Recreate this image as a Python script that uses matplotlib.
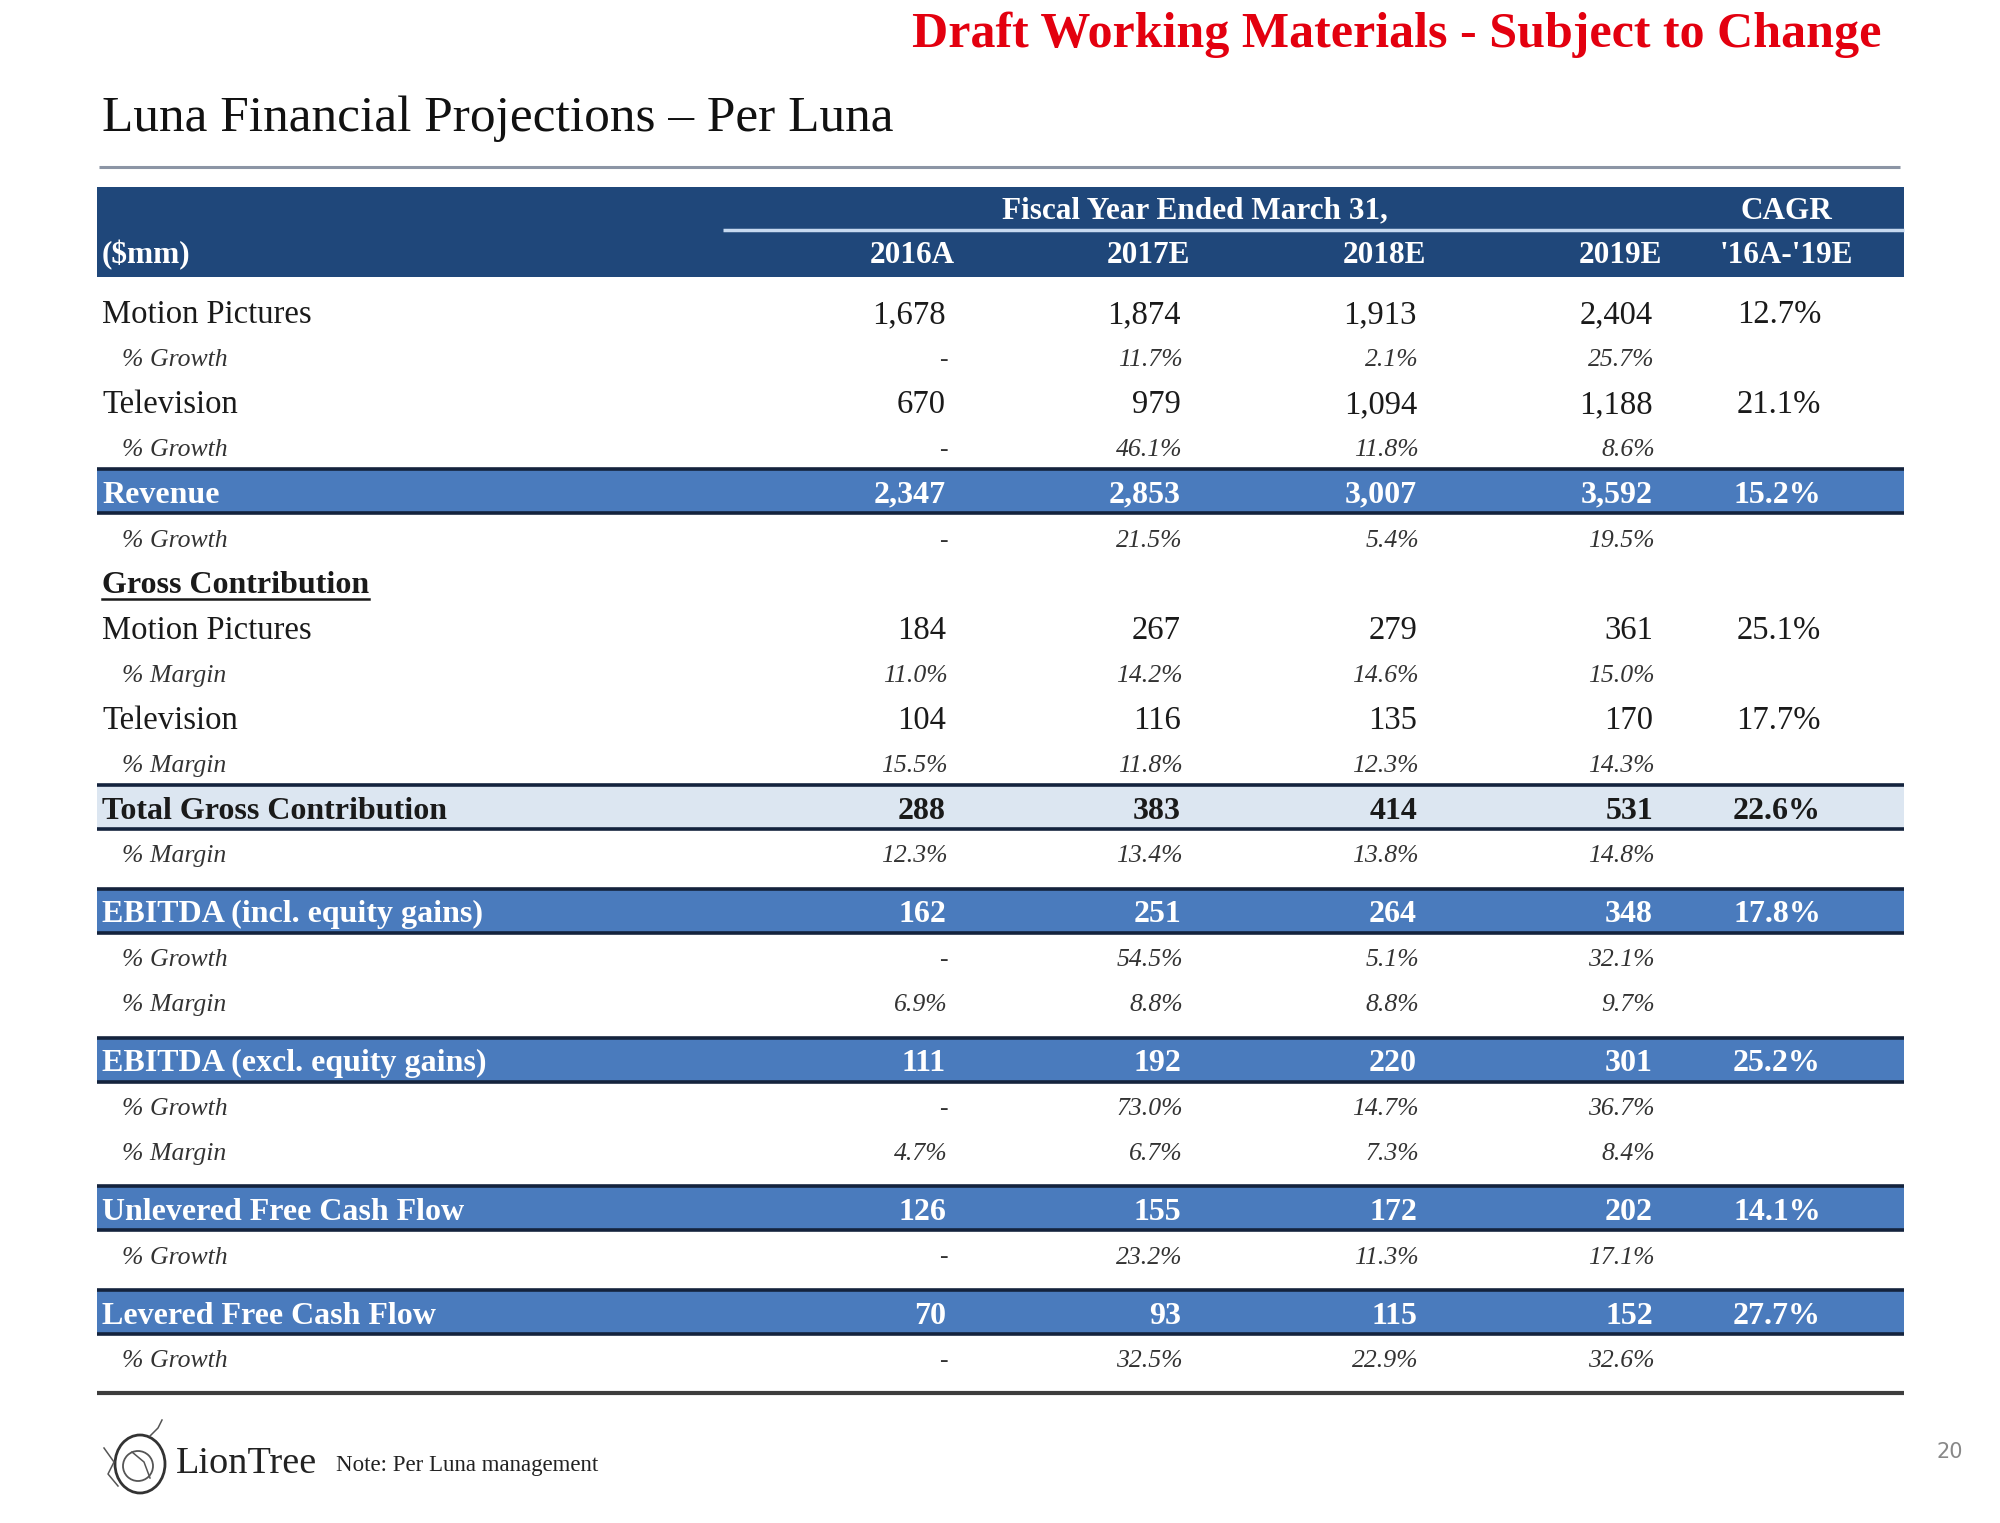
import matplotlib

matplotlib.use("Agg")
import matplotlib.pyplot as plt
from matplotlib.patches import Rectangle, Circle, Ellipse

plt.rcParams["font.family"] = ["Liberation Serif", "DejaVu Serif"]

# ---- data ($mm) ----
years = ["2016A", "2017E", "2018E", "2019E"]
cagr_label = "'16A-'19E"

mp_revenue = [1678, 1874, 1913, 2404]
mp_revenue_growth = [None, 11.7, 2.1, 25.7]
tv_revenue = [670, 979, 1094, 1188]
tv_revenue_growth = [None, 46.1, 11.8, 8.6]
revenue = [2347, 2853, 3007, 3592]
revenue_growth = [None, 21.5, 5.4, 19.5]

mp_gross = [184, 267, 279, 361]
mp_gross_margin = [11.0, 14.2, 14.6, 15.0]
tv_gross = [104, 116, 135, 170]
tv_gross_margin = [15.5, 11.8, 12.3, 14.3]
total_gross = [288, 383, 414, 531]
total_gross_margin = [12.3, 13.4, 13.8, 14.8]

ebitda_incl = [162, 251, 264, 348]
ebitda_incl_growth = [None, 54.5, 5.1, 32.1]
ebitda_incl_margin = [6.9, 8.8, 8.8, 9.7]
ebitda_excl = [111, 192, 220, 301]
ebitda_excl_growth = [None, 73.0, 14.7, 36.7]
ebitda_excl_margin = [4.7, 6.7, 7.3, 8.4]

ufcf = [126, 155, 172, 202]
ufcf_growth = [None, 23.2, 11.3, 17.1]
lfcf = [70, 93, 115, 152]
lfcf_growth = [None, 32.5, 22.9, 32.6]

cagr = {
    "mp_revenue": 12.7, "tv_revenue": 21.1, "revenue": 15.2,
    "mp_gross": 25.1, "tv_gross": 17.7, "total_gross": 22.6,
    "ebitda_incl": 17.8, "ebitda_excl": 25.2, "ufcf": 14.1, "lfcf": 27.7,
}

# (label, values, cagr, style, extra gap before row)
rows = [
    ("Motion Pictures", mp_revenue, cagr["mp_revenue"], "line", 0),
    ("% Growth", mp_revenue_growth, None, "pct", 0),
    ("Television", tv_revenue, cagr["tv_revenue"], "line", 0),
    ("% Growth", tv_revenue_growth, None, "pct", 0),
    ("Revenue", revenue, cagr["revenue"], "band", 0),
    ("% Growth", revenue_growth, None, "pct", 0),
    ("Gross Contribution", None, None, "section", 0),
    ("Motion Pictures", mp_gross, cagr["mp_gross"], "line", 0),
    ("% Margin", mp_gross_margin, None, "pct", 0),
    ("Television", tv_gross, cagr["tv_gross"], "line", 0),
    ("% Margin", tv_gross_margin, None, "pct", 0),
    ("Total Gross Contribution", total_gross, cagr["total_gross"], "light", 0),
    ("% Margin", total_gross_margin, None, "pct", 0),
    ("EBITDA (incl. equity gains)", ebitda_incl, cagr["ebitda_incl"], "band", 1),
    ("% Growth", ebitda_incl_growth, None, "pct", 0),
    ("% Margin", ebitda_incl_margin, None, "pct", 0),
    ("EBITDA (excl. equity gains)", ebitda_excl, cagr["ebitda_excl"], "band", 1),
    ("% Growth", ebitda_excl_growth, None, "pct", 0),
    ("% Margin", ebitda_excl_margin, None, "pct", 0),
    ("Unlevered Free Cash Flow", ufcf, cagr["ufcf"], "band", 1),
    ("% Growth", ufcf_growth, None, "pct", 0),
    ("Levered Free Cash Flow", lfcf, cagr["lfcf"], "band", 1),
    ("% Growth", lfcf_growth, None, "pct", 0),
]

# ---- layout (pixel space, y down) ----
W, H = 2000, 1523
TABLE_L, TABLE_R = 97, 1904
LABEL_X, SUB_X = 102, 122
COL_RIGHT = [946, 1181, 1417, 1653]
CAGR_RIGHT = 1821
HEAD_CENTERS = [912, 1148, 1384, 1620]
CAGR_CENTER = 1786
ROW0, PITCH, GAP = 311, 45.1, 13.5
BAND_HALF = 22
DY = 4  # text baseline nudge

FS_MAIN = 23.5
FS_BAND = 23
FS_PCT = 18.5
FS_HEAD = 22.5

HEADER_BLUE = "#1f477a"
BAND_BLUE = "#4a7bbd"
LIGHT_BAND = "#dce6f1"
BORDER = "#14233d"
TEXT = "#1a1a1a"
PCT_TEXT = "#333333"

fig = plt.figure(figsize=(W / 100, H / 100), dpi=100)
ax = fig.add_axes([0, 0, 1, 1])
ax.set_xlim(0, W)
ax.set_ylim(H, 0)
ax.axis("off")

# title area
ax.text(1881, 35, "Draft Working Materials - Subject to Change", color="#e3000f",
        fontsize=36, fontweight="bold", ha="right", va="center")
ax.text(102, 119, "Luna Financial Projections \u2013 Per Luna", color="#111111",
        fontsize=37, ha="left", va="center")
ax.plot([99, 1900], [167, 167], color="#8c95a5", lw=2.2, solid_capstyle="butt")

# header band
ax.add_patch(Rectangle((TABLE_L, 187), TABLE_R - TABLE_L, 90, color=HEADER_BLUE, lw=0))
ax.plot([723, TABLE_R], [230, 230], color="#c6d9f0", lw=2.5, solid_capstyle="butt")
ax.text(1195, 211, "Fiscal Year Ended March 31,", color="white", fontsize=FS_HEAD,
        fontweight="bold", ha="center", va="center")
ax.text(CAGR_CENTER, 211, "CAGR", color="white", fontsize=FS_HEAD, fontweight="bold",
        ha="center", va="center")
ax.text(LABEL_X, 255, "($mm)", color="white", fontsize=FS_HEAD, fontweight="bold",
        ha="left", va="center")
for xc, yr in zip(HEAD_CENTERS, years):
    ax.text(xc, 255, yr, color="white", fontsize=FS_HEAD, fontweight="bold",
            ha="center", va="center")
ax.text(CAGR_CENTER, 255, cagr_label, color="white", fontsize=FS_HEAD, fontweight="bold",
        ha="center", va="center")


def fmt_num(v):
    return f"{v:,.0f}"


def fmt_pct(v):
    return "-" if v is None else f"{v:.1f}%"


y = ROW0
section_text = None
for i, (label, vals, cg, style, gap) in enumerate(rows):
    if i > 0:
        y += PITCH + gap * GAP
    ty = y + DY

    if style in ("band", "light"):
        fill = BAND_BLUE if style == "band" else LIGHT_BAND
        ax.add_patch(Rectangle((TABLE_L, y - BAND_HALF), TABLE_R - TABLE_L,
                               2 * BAND_HALF, color=fill, lw=0))
        for yy in (y - BAND_HALF, y + BAND_HALF):
            ax.plot([TABLE_L, TABLE_R], [yy, yy], color=BORDER, lw=2.6,
                    solid_capstyle="butt")
        color = "white" if style == "band" else TEXT
        ax.text(LABEL_X, ty, label, color=color, fontsize=FS_BAND, fontweight="bold",
                ha="left", va="center")
        for xr, v in zip(COL_RIGHT, vals):
            ax.text(xr, ty, fmt_num(v), color=color, fontsize=FS_BAND,
                    fontweight="bold", ha="right", va="center")
        ax.text(CAGR_RIGHT, ty, f"{cg:.1f}%", color=color, fontsize=FS_BAND,
                fontweight="bold", ha="right", va="center")
    elif style == "line":
        ax.text(LABEL_X, ty, label, color=TEXT, fontsize=FS_MAIN, ha="left", va="center")
        for xr, v in zip(COL_RIGHT, vals):
            ax.text(xr, ty, fmt_num(v), color=TEXT, fontsize=FS_MAIN,
                    ha="right", va="center")
        ax.text(CAGR_RIGHT, ty, f"{cg:.1f}%", color=TEXT, fontsize=FS_MAIN,
                ha="right", va="center")
    elif style == "pct":
        ax.text(SUB_X, ty, label, color=PCT_TEXT, fontsize=FS_PCT, style="italic",
                ha="left", va="center")
        for xr, v in zip(COL_RIGHT, vals):
            ax.text(xr + 2, ty, fmt_pct(v), color=PCT_TEXT, fontsize=FS_PCT,
                    style="italic", ha="right", va="center")
    elif style == "section":
        section_text = ax.text(LABEL_X, ty, label, color=TEXT, fontsize=FS_BAND,
                               fontweight="bold", ha="left", va="center")
        section_y = y

last_y = y
ax.plot([TABLE_L, TABLE_R], [last_y + 36, last_y + 36], color="#3d3d3d", lw=3,
        solid_capstyle="butt")

# underline for the section header
fig.canvas.draw()
bb = section_text.get_window_extent(renderer=fig.canvas.get_renderer())
x0, _ = ax.transData.inverted().transform((bb.x0, bb.y0))
x1, _ = ax.transData.inverted().transform((bb.x1, bb.y0))
ax.plot([x0, x1], [section_y + 17, section_y + 17], color=TEXT, lw=1.8)

# footer: logo, note, page number
ax.add_patch(Ellipse((140, 1464), 50, 58, fill=False, ec="#333333", lw=2))
ax.add_patch(Circle((138, 1466), 15, fill=False, ec="#555555", lw=1.3))
ax.plot([132, 144, 150], [1452, 1462, 1478], color="#555555", lw=1.1)
ax.plot([104, 114, 108, 118], [1448, 1462, 1474, 1486], color="#555555", lw=1.1)
ax.plot([150, 158, 162], [1436, 1428, 1420], color="#555555", lw=1.1)
ax.text(176, 1464, "LionTree", color="#222222", fontsize=27.5, ha="left", va="center")
ax.text(336, 1465, "Note: Per Luna management", color="#222222", fontsize=16.5,
        ha="left", va="center")
ax.text(1936, 1452, "20", color="#888888", fontsize=15, ha="left", va="center",
        family=["DejaVu Sans"])

fig.savefig("out.png", dpi=100, facecolor="white")
